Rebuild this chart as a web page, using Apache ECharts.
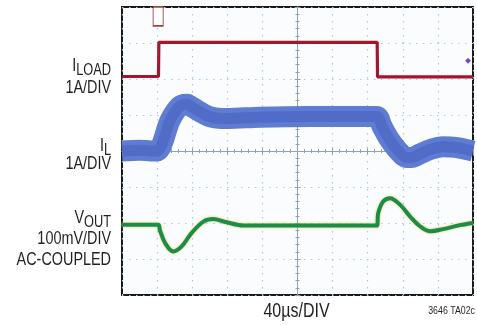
<!DOCTYPE html>
<html>
<head>
<meta charset="utf-8">
<script src="https://cdn.jsdelivr.net/npm/echarts@6/dist/echarts.min.js"></script>
<style>
  html, body { margin: 0; padding: 0; background: #fff; }
  #scope { width: 477px; height: 325px; }
</style>
</head>
<body>
<div id="scope"></div>
<script>
  // scope divisions: x -5..5 (40us/div), y -4..4
  const loadT = [-5, -3.96, -3.95, 2.27, 2.28, 5];
  const loadV = [2.07, 2.07, 3.02, 3.02, 2.06, 2.06];

  const inductorT = [-5, -4.5, -4.0, -3.9, -3.82, -3.63, -3.35, -3.15, -2.97, -2.49, -2.02, -1.07, 0.36, 2.26,
    2.4, 2.6, 2.83, 3.11, 3.3, 3.49, 3.8, 4.15, 4.5, 5];
  const inductorV = [0.0, 0.02, 0.0, 0.1, 0.3, 0.85, 1.25, 1.3, 1.2, 0.95, 0.9, 0.94, 0.96, 0.96,
    0.7, 0.35, 0.05, -0.18, -0.17, -0.08, 0.05, 0.12, 0.1, 0.0];

  const voutT = [-5, -3.97, -3.92, -3.77, -3.54, -3.3, -3.02, -2.68, -2.4, -2.02, -1.54, 2.26,
    2.3, 2.44, 2.64, 2.92, 3.21, 3.49, 3.78, 4.15, 4.63, 5];
  const voutV = [-2.05, -2.05, -2.2, -2.56, -2.79, -2.65, -2.28, -1.96, -1.89, -1.98, -2.07, -2.07,
    -1.72, -1.4, -1.31, -1.49, -1.82, -2.09, -2.23, -2.17, -2.06, -2.0];

  const triggerMark = [-3.97, 3.74];
  const refMark = [4.86, 2.51];

  // no condensed face installed, so squeeze Liberation Sans horizontally
  const FONT = "'Liberation Sans', Arial, sans-serif";
  const NARROW = 0.8;
  const INK = '#231f20';

  const pairs = (xs, ys) => xs.map((x, i) => [x, ys[i]]);

  const measure = document.createElement('canvas').getContext('2d');
  function textW(str, size) {
    measure.font = size + 'px ' + FONT;
    return measure.measureText(str).width * NARROW;
  }

  function txt(str, x, y, size, align) {
    return {
      type: 'text', x: x, y: y, scaleX: NARROW,
      style: {text: str, font: size + 'px ' + FONT, fill: INK, align: align || 'right', verticalAlign: 'middle'}
    };
  }
  // label with a subscript, right edge at x
  function subLabel(main, sub, x, y) {
    let w = textW(sub, 16);
    return [txt(main, x - w, y, 18), txt(sub, x, y + 4.5, 16)];
  }

  let chart = echarts.init(document.getElementById('scope'));

  let xAxisBase = {
    type: 'value', min: -5, max: 5, interval: 1,
    axisLabel: {show: false},
    axisLine: {onZero: true, onZeroAxisIndex: 0, lineStyle: {color: '#8ea3b0', width: 1}},
    axisTick: {show: true, length: 3, lineStyle: {color: '#8ea3b0'}},
    minorTick: {show: true, splitNumber: 5, length: 2, lineStyle: {color: '#8ea3b0'}}
  };
  let yAxisBase = {
    type: 'value', min: -4, max: 4, interval: 1,
    axisLabel: {show: false},
    axisLine: {onZero: true, onZeroAxisIndex: 0, lineStyle: {color: '#8ea3b0', width: 1}},
    axisTick: {show: true, length: 3, lineStyle: {color: '#8ea3b0'}},
    minorTick: {show: true, splitNumber: 5, length: 2, lineStyle: {color: '#8ea3b0'}}
  };
  let gridLine = {show: true, lineStyle: {color: '#a3cbe0', width: 1.2, type: [1.5, 5.5]}};

  let option = {
    animation: false,
    grid: {
      left: 122, right: 4, top: 7, bottom: 30,
      show: true, backgroundColor: '#fbfcfe', borderColor: '#1a1a1a', borderWidth: 2
    },
    xAxis: [
      Object.assign({}, xAxisBase, {position: 'bottom', splitLine: gridLine}),
      Object.assign({}, xAxisBase, {position: 'top', splitLine: {show: false}})
    ],
    yAxis: [
      Object.assign({}, yAxisBase, {position: 'left', splitLine: gridLine}),
      Object.assign({}, yAxisBase, {position: 'right', splitLine: {show: false}})
    ],
    series: [
      {
        name: 'ILOAD', type: 'line', data: pairs(loadT, loadV), showSymbol: false, z: 3,
        lineStyle: {color: '#a3172d', width: 3.2},
        markPoint: {
          silent: true, label: {show: false},
          data: [
            {coord: triggerMark, symbol: 'rect', symbolSize: [10, 19],
              itemStyle: {color: '#ffffff', borderColor: '#a04040', borderWidth: 1.2}},
            {coord: refMark, symbol: 'diamond', symbolSize: 6, itemStyle: {color: '#7d4cc4'}}
          ]
        }
      },
      {
        name: 'IL', type: 'line', data: pairs(inductorT, inductorV), showSymbol: false, z: 4,
        smooth: 0.3,
        lineStyle: {color: '#5d7cd2', width: 21, cap: 'butt', join: 'round'}
      },
      {
        name: 'IL core', type: 'line', data: pairs(inductorT, inductorV), showSymbol: false, z: 5,
        smooth: 0.3,
        lineStyle: {color: '#4058bb', width: 11, opacity: 0.45, cap: 'butt', join: 'round'}
      },
      {
        name: 'VOUT', type: 'line', data: pairs(voutT, voutV), showSymbol: false, z: 6,
        smooth: 0.35,
        lineStyle: {color: '#1d8c48', width: 4, shadowColor: '#e0cf6a', shadowBlur: 3}
      }
    ],
    graphic: [].concat(
      subLabel('I', 'LOAD', 111, 66),
      [txt('1A/DIV', 111, 88, 18)],
      subLabel('I', 'L', 111, 146),
      [txt('1A/DIV', 111, 164, 18)],
      subLabel('V', 'OUT', 111, 218),
      [txt('100mV/DIV', 111, 239.5, 18),
       txt('AC-COUPLED', 111, 260, 18),
       txt('40µs/DIV', 296.5, 311.5, 20, 'center'),
       txt('3646 TA02c', 475, 311, 11)]
    )
  };
  chart.setOption(option);
</script>
</body>
</html>
